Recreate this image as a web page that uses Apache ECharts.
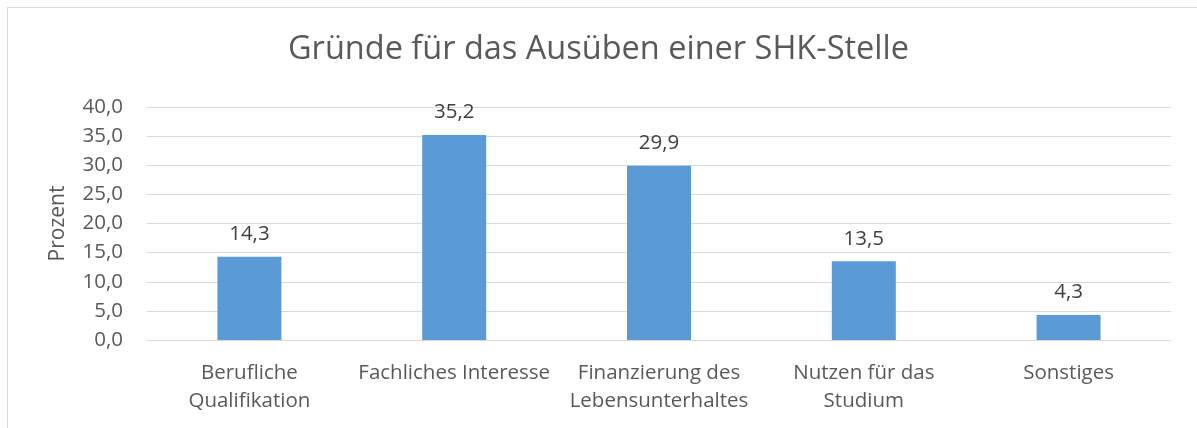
<!DOCTYPE html>
<html>
<head>
<meta charset="utf-8">
<script src="https://cdn.jsdelivr.net/npm/echarts@6/dist/echarts.min.js"></script>
<style>
  html, body { margin: 0; padding: 0; background: #fff; overflow: hidden; }
  #frame {
    position: absolute; left: 7px; top: 7px;
    width: 1300px; height: 600px;
    border: 1px solid #d9d9d9;
  }
  #chart { position: absolute; left: 0; top: 0; width: 1197px; height: 428px; }
</style>
</head>
<body>
<div id="frame"></div>
<div id="chart"></div>
<script>
const categories = [
  'Berufliche\nQualifikation',
  'Fachliches Interesse',
  'Finanzierung des\nLebensunterhaltes',
  'Nutzen für das\nStudium',
  'Sonstiges',
];
const values = [14.3, 35.2, 29.9, 13.5, 4.3];
const yTicks = { min: 0, max: 40, interval: 5 };

const font = '"Open Sans", sans-serif';
const fmt = (v) => v.toFixed(1).replace('.', ',');

const chart = echarts.init(document.getElementById('chart'));
chart.setOption({
  animation: false,
  title: {
    text: 'Gründe für das Ausüben einer SHK-Stelle',
    left: 'center',
    top: 28,
    textStyle: { fontFamily: font, fontSize: 32.5, fontWeight: 'normal', color: '#595959' },
  },
  grid: { left: 147, right: 26, top: 107, bottom: 88 },
  xAxis: {
    type: 'category',
    data: categories,
    axisLine: { lineStyle: { color: '#d9d9d9', width: 1 } },
    axisTick: { show: false },
    axisLabel: {
      interval: 0,
      margin: 19,
      fontFamily: font,
      fontSize: 20.5,
      lineHeight: 28,
      color: '#595959',
    },
  },
  yAxis: {
    type: 'value',
    min: yTicks.min,
    max: yTicks.max,
    interval: yTicks.interval,
    name: 'Prozent',
    nameLocation: 'middle',
    nameGap: 78,
    nameTextStyle: { fontFamily: font, fontSize: 21, color: '#595959' },
    axisLine: { show: false },
    axisTick: { show: false },
    splitLine: { lineStyle: { color: '#d9d9d9', width: 1 } },
    axisLabel: {
      margin: 24,
      fontFamily: font,
      fontSize: 20.5,
      color: '#595959',
      formatter: (v) => fmt(v),
    },
  },
  series: [
    {
      type: 'bar',
      data: values,
      barWidth: 64,
      itemStyle: { color: '#5b9bd5' },
      label: {
        show: true,
        position: 'top',
        distance: 12,
        fontFamily: font,
        fontSize: 20.5,
        color: '#404040',
        formatter: (p) => fmt(p.value),
      },
    },
  ],
});
</script>
</body>
</html>
